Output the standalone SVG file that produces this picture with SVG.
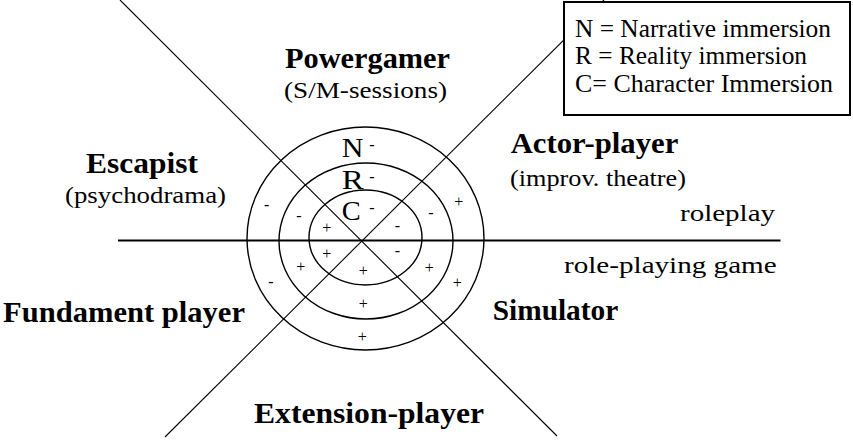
<svg xmlns="http://www.w3.org/2000/svg" width="853" height="440" viewBox="0 0 853 440">
<style>
.bg{fill:#fff}
.ln{stroke:#000;fill:none;stroke-width:1.1}
.hz{stroke:#000;fill:none;stroke-width:2}
.ring{stroke:#000;fill:none;stroke-width:1.4}
.t{font-family:"Liberation Serif","Times New Roman",serif;fill:#000}
.title{font-size:30px;font-weight:bold}
.sub{font-size:23px}
.leg{font-size:25px}
.big{font-size:28px}
.sg{font-size:16px;text-anchor:middle}
</style>
<rect class="bg" x="0" y="0" width="853" height="440"/>
<g id="connectors">
<line class="ln" x1="120" y1="0" x2="557" y2="436"/>
<line class="ln" x1="604" y1="0" x2="165" y2="437"/>
<line class="hz" x1="118" y1="240.5" x2="780.5" y2="240.5"/>
</g>
<g id="rings">
<ellipse class="ring" cx="365.5" cy="238.5" rx="118.5" ry="111.5"/>
<ellipse class="ring" cx="366" cy="241" rx="87" ry="78"/>
<ellipse class="ring" cx="365.5" cy="237.5" rx="56.5" ry="47.5"/>
</g>
<g id="ring-labels">
<text class="t big" x="341.7" y="156.7" textLength="21.7" lengthAdjust="spacingAndGlyphs">N</text>
<text class="t big" x="341.7" y="189" textLength="22" lengthAdjust="spacingAndGlyphs">R</text>
<text class="t big" x="341.7" y="219.5" textLength="19" lengthAdjust="spacingAndGlyphs">C</text>
<text class="t sg" x="372" y="150">-</text>
<text class="t sg" x="372" y="182">-</text>
<text class="t sg" x="372" y="213">-</text>
</g>
<g id="signs">
<text class="t sg" x="266.7" y="210">-</text>
<text class="t sg" x="299" y="220.5">-</text>
<text class="t sg" x="326.7" y="233">+</text>
<text class="t sg" x="397.3" y="230.5">-</text>
<text class="t sg" x="431" y="218">-</text>
<text class="t sg" x="458.7" y="207">+</text>
<text class="t sg" x="326.7" y="259">+</text>
<text class="t sg" x="300.7" y="271.5">+</text>
<text class="t sg" x="271" y="286.5">-</text>
<text class="t sg" x="397.3" y="256">-</text>
<text class="t sg" x="429.3" y="273">+</text>
<text class="t sg" x="457.3" y="287.5">+</text>
<text class="t sg" x="363.3" y="275.5">+</text>
<text class="t sg" x="363.3" y="309">+</text>
<text class="t sg" x="362.3" y="341.5">+</text>
</g>
<g id="legend">
<rect x="564" y="2" width="286" height="113" fill="#fff" stroke="#000" stroke-width="2"/>
<text class="t leg" x="575" y="36.5" textLength="256" lengthAdjust="spacingAndGlyphs">N = Narrative immersion</text>
<text class="t leg" x="575" y="63.5" textLength="232" lengthAdjust="spacingAndGlyphs">R = Reality immersion</text>
<text class="t leg" x="575" y="91.5" textLength="258" lengthAdjust="spacingAndGlyphs">C= Character Immersion</text>
</g>
<g id="powergamer">
<text class="t title" x="285" y="67.5" textLength="165" lengthAdjust="spacingAndGlyphs">Powergamer</text>
<text class="t sub" x="284" y="97.5" textLength="163" lengthAdjust="spacingAndGlyphs">(S/M-sessions)</text>
</g>
<g id="escapist">
<text class="t title" x="86" y="173" textLength="112" lengthAdjust="spacingAndGlyphs">Escapist</text>
<text class="t sub" x="65" y="203" textLength="161" lengthAdjust="spacingAndGlyphs">(psychodrama)</text>
</g>
<g id="actor-player">
<text class="t title" x="510.7" y="153.3" textLength="167.6" lengthAdjust="spacingAndGlyphs">Actor-player</text>
<text class="t sub" x="510" y="186" textLength="176" lengthAdjust="spacingAndGlyphs">(improv. theatre)</text>
</g>
<g id="roleplay">
<text class="t sub" x="680" y="221" textLength="95" lengthAdjust="spacingAndGlyphs">roleplay</text>
</g>
<g id="role-playing-game">
<text class="t sub" x="564" y="273" textLength="212.7" lengthAdjust="spacingAndGlyphs">role-playing game</text>
</g>
<g id="fundament-player">
<text class="t title" x="3" y="321.5" textLength="242" lengthAdjust="spacingAndGlyphs">Fundament player</text>
</g>
<g id="simulator">
<text class="t title" x="492.7" y="320" textLength="125.6" lengthAdjust="spacingAndGlyphs">Simulator</text>
</g>
<g id="extension-player">
<text class="t title" x="254" y="423" textLength="230" lengthAdjust="spacingAndGlyphs">Extension-player</text>
</g>
</svg>
